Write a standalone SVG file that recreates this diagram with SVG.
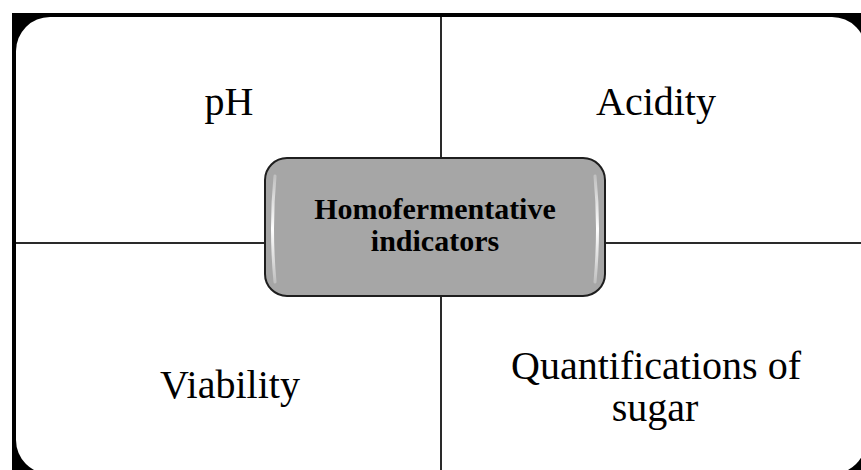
<svg xmlns="http://www.w3.org/2000/svg" width="861" height="470" viewBox="0 0 861 470">
  <defs>
    <style>
      .lbl { font-family: "Liberation Serif", "Times New Roman", serif; font-size: 40px; fill: #000; text-anchor: middle; }
      .ctr { font-family: "Liberation Serif", "Times New Roman", serif; font-size: 30px; font-weight: bold; fill: #000; text-anchor: middle; }
      .div { stroke: #2a2a2a; stroke-width: 2; fill: none; }
    </style>
    <linearGradient id="gloss" x1="0" y1="0" x2="0" y2="1">
      <stop offset="0" stop-color="#ffffff" stop-opacity="0.3"/>
      <stop offset="0.5" stop-color="#ffffff" stop-opacity="1"/>
      <stop offset="1" stop-color="#ffffff" stop-opacity="0.3"/>
    </linearGradient>
  </defs>
  <rect x="0" y="0" width="861" height="470" fill="#ffffff"/>
  <g id="frame">
    <rect x="12" y="13" width="849" height="457" fill="#000000"/>
    <rect x="16" y="17" width="850" height="457" rx="34" ry="34" fill="#ffffff"/>
  </g>
  <g id="connectors">
    <line class="div" x1="441" y1="17" x2="441" y2="470"/>
    <line class="div" x1="16" y1="243" x2="861" y2="243"/>
  </g>
  <g id="node-ph">
    <text class="lbl" x="229" y="115">pH</text>
  </g>
  <g id="node-acidity">
    <text class="lbl" x="656" y="115">Acidity</text>
  </g>
  <g id="node-viability">
    <text class="lbl" x="230" y="398">Viability</text>
  </g>
  <g id="node-sugar">
    <text class="lbl" x="656" y="379">Quantifications of</text>
    <text class="lbl" x="655" y="421">sugar</text>
  </g>
  <g id="node-center">
    <rect x="265" y="158" width="340" height="138" rx="22" ry="22" fill="#a6a6a6" stroke="#1e1e1e" stroke-width="2"/>
    <path d="M275 176 Q270 228 275 282" stroke="url(#gloss)" stroke-width="3" fill="none" stroke-linecap="round"/>
    <path d="M595 176 Q600 228 595 282" stroke="url(#gloss)" stroke-width="3" fill="none" stroke-linecap="round"/>
    <text class="ctr" x="435" y="219">Homofermentative</text>
    <text class="ctr" x="435" y="251">indicators</text>
  </g>
</svg>
